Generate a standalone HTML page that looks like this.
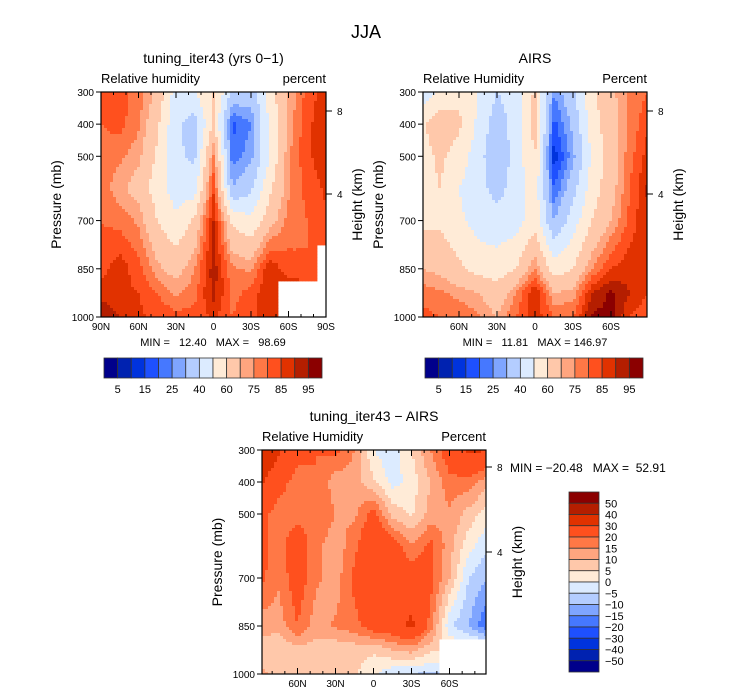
<!DOCTYPE html>
<html><head><meta charset="utf-8"><style>
body{margin:0;background:#fff;width:733px;height:699px;overflow:hidden}
svg{display:block;font-family:"Liberation Sans",sans-serif}
text{fill:#000;white-space:pre}
</style></head><body>
<svg id="s" width="733" height="699" viewBox="0 0 733 699">
<text x="366" y="38" font-size="18" text-anchor="middle">JJA</text>
<g id="g"></g>
</svg>
<script>
// ---- data ----
const lats = [90,75,60,45,30,15,0,-15,-30,-45,-60,-75,-90];
const pLevels = [300,400,500,600,700,850,925,1000];
const rhLevels = [5,10,15,20,25,30,40,50,60,70,75,80,85,90,95];
const diffLevels = [-50,-40,-30,-20,-15,-10,-5,0,5,10,15,20,30,40,50];
const rhTickLabels = ['5','15','25','40','60','75','85','95'];
const diffTickLabels = ['50','40','30','20','15','10','5','0','\u22125','\u221210','\u221215','\u221220','\u221230','\u221240','\u221250'];
const modelRH = [
 [80,82,78,68,45,50,62,38,35,55,70,82,88],
 [80,82,76,62,42,35,62,18,25,52,72,84,88],
 [78,76,72,58,42,38,76,22,28,50,74,84,88],
 [78,72,66,55,45,45,84,30,38,58,74,82,86],
 [80,78,74,60,52,62,90,58,52,66,77,80,84],
 [83,88,82,72,66,75,93,76,74,89,82,80,null],
 [88,86,85,80,74,78,92,78,82,90,null,null,null],
 [95,90,86,84,82,82,86,80,85,85,null,null,null]];
const airsRH = [
 [42,52,58,50,40,45,62,25,38,58,68,76,80],
 [58,66,62,48,34,45,65,18,32,55,66,76,85],
 [56,62,56,44,32,44,60,12,28,52,66,78,88],
 [56,60,50,44,36,45,56,20,36,55,66,80,92],
 [58,58,52,46,44,45,56,30,45,60,70,82,90],
 [70,68,62,56,55,60,75,55,60,75,85,88,90],
 [78,76,73,70,64,75,90,70,72,90,96,90,85],
 [82,80,80,76,70,80,88,80,80,96,97,85,80]];
const diffRH = [
 [42,32,22,20,22,15,0,-4,5,15,25,32,30],
 [32,22,18,20,12,12,6,-2,2,10,18,18,12],
 [22,18,18,20,15,14,22,8,4,12,14,8,2],
 [22,18,24,16,12,18,30,24,16,22,12,2,-4],
 [22,16,24,16,12,22,28,26,24,22,10,-5,-10],
 [12,12,20,12,16,18,24,26,32,18,-4,-10,-20],
 [7,6,8,8,6,7,6,10,12,6,null,null,null],
 [12,8,8,8,7,6,1,-4,-5,-6,null,null,null]];
const colors = ['#00008b','#0022b0','#0033dd','#1e50ff','#4678ff','#7fa5ff','#b4cdff','#dcebff','#ffebd7','#ffc8aa','#ffa57f','#ff7846','#ff501e','#e13200','#b41e00','#8b0000'];
const NS='http://www.w3.org/2000/svg';
const G=document.getElementById('g');
function el(t,a,p){const e=document.createElementNS(NS,t);for(const k in a)e.setAttribute(k,a[k]);(p||G).appendChild(e);return e;}
function txt(x,y,s,size,anchor,p,rot){const e=el('text',{x:x,y:y,'font-size':size,'text-anchor':anchor||'start'},p);if(rot)e.setAttribute('transform','rotate(-90 '+x+' '+y+')');e.textContent=s;return e;}
function colorFor(v,levels){let i=0;while(i<levels.length&&v>=levels[i])i++;return colors[i];}
function interp(data,fi,fj){
  const i0=Math.floor(fi),j0=Math.floor(fj),i1=Math.min(i0+1,data.length-1),j1=Math.min(j0+1,data[0].length-1);
  const ni=Math.round(fi),nj=Math.round(fj);
  if(data[ni][nj]===null)return null;
  const g=(i,j)=>{let v=data[i][j];let k=j;while(v===null&&k>0){k--;v=data[i][k];}return v;};
  const di=fi-i0,dj=fj-j0;
  return g(i0,j0)*(1-di)*(1-dj)+g(i0,j1)*(1-di)*dj+g(i1,j0)*di*(1-dj)+g(i1,j1)*di*dj;
}
function panel(o){
  const grp=el('g',{});
  
  
  const x0=o.x,x1=o.x+o.w,y0=o.y,y1=o.y+o.h;
  const xS=lat=>o.xc+(-lat)*o.degPx;
  const yS=p=>y0+(p-300)/700*o.h;
  const cell=3;
  for(let py=y0;py<y1;py+=cell){
    const pc=300+(py+cell/2-y0)/o.h*700;
    let fi=0;for(let k=0;k<pLevels.length-1;k++){if(pc>=pLevels[k]&&pc<=pLevels[k+1]){fi=k+(pc-pLevels[k])/(pLevels[k+1]-pLevels[k]);}}
    for(let px=x0;px<x1;px+=cell){
      const lat=-((px+cell/2)-o.xc)/o.degPx;
      const fj=Math.max(0,Math.min(lats.length-1,(90-lat)/15));
      const v=interp(o.data,fi,fj);
      if(v===null)continue;
      const r=el('rect',{x:px,y:py,width:Math.min(cell,x1-px)+0.4,height:Math.min(cell,y1-py)+0.4,fill:colorFor(v,o.levels)},grp);
      
      
    }
  }
  const fr=el('rect',{x:x0,y:y0,width:o.w,height:o.h,fill:'none',stroke:'#000','stroke-width':1.2},grp);
  
  [300,400,500,700,850,1000].forEach(p=>{
    el('line',{x1:x0-5,x2:x0,y1:yS(p),y2:yS(p),stroke:'#000'},grp);
    const t=txt(x0-7,yS(p)+4,String(p),10,'end',grp);
    
  });
  for(let lat=90;lat>=-90;lat-=10){
    const x=xS(lat);if(x<x0-0.5||x>x1+0.5)continue;
    const major=lat%30===0;
    el('line',{x1:x,x2:x,y1:y1,y2:y1-(major?6:3),stroke:'#000'},grp);
    el('line',{x1:x,x2:x,y1:y0,y2:y0+(major?6:3),stroke:'#000'},grp);
    if(major&&(o.edgeLabels||Math.abs(lat)<90)){
      const s=lat===0?'0':(Math.abs(lat)+(lat>0?'N':'S'));
      const t=txt(x,y1+13,s,10,'middle',grp);
      
    }
  }
  o.hTicks.forEach(h=>{
    el('line',{x1:x1,x2:x1+6,y1:h[1],y2:h[1],stroke:'#000'},grp);
    const t=txt(x1+11,h[1]+4,String(h[0]),10,'start',grp);
    
  });
  let t=txt(o.x+o.w/2,o.y-29,o.title,14,'middle',grp);
  t=txt(x0,y0-9,o.left,13,'start',grp);
  t=txt(x1,y0-9,o.right,13,'end',grp);
  t=txt(x0-40,y0+o.h/2,'Pressure (mb)',14,'middle',grp,true);
  t=txt(x1+36,y0+o.h/2,'Height (km)',14,'middle',grp,true);
}
function hbar(x,y,w,h,labels){
  const grp=el('g',{});
  
  const bw=w/colors.length;
  colors.forEach((c,i)=>{const r=el('rect',{x:x+i*bw,y:y,width:bw,height:h,fill:c,stroke:'#333','stroke-width':0.8},grp);
    });
  labels.forEach((s,k)=>{const t=txt(x+(2*k+1)*bw,y+h+15,s,11,'middle',grp);});
}
function vbar(x,y,w,h,labels){
  const grp=el('g',{});
  
  const bh=h/colors.length;
  colors.slice().reverse().forEach((c,i)=>{const r=el('rect',{x:x,y:y+i*bh,width:w,height:bh,fill:c,stroke:'#333','stroke-width':0.8},grp);
    });
  labels.forEach((s,k)=>{const t=txt(x+w+6,y+(k+1)*bh+4,s,11,'start',grp);});
}
panel({name:'model-panel',x:101,y:92,w:225,h:225,xc:213.5,degPx:225/180,data:modelRH,levels:rhLevels,title:'tuning_iter43 (yrs 0\u22121)',left:'Relative humidity',right:'percent',hTicks:[[8,111],[4,194]],edgeLabels:true});
panel({name:'airs-panel',x:423,y:92,w:224,h:225,xc:535,degPx:76/60,data:airsRH,levels:rhLevels,title:'AIRS',left:'Relative Humidity',right:'Percent',hTicks:[[8,111],[4,194]],edgeLabels:false});
panel({name:'diff-panel',x:262,y:450,w:224,h:224,xc:373.5,degPx:76/60,data:diffRH,levels:diffLevels,title:'tuning_iter43 \u2212 AIRS',left:'Relative Humidity',right:'Percent',hTicks:[[8,467],[4,552]],edgeLabels:false});
let t;
t=txt(213,346,'MIN =   12.40   MAX =   98.69',11,'middle');
t=txt(535,346,'MIN =   11.81   MAX = 146.97',11,'middle');
t=txt(510,472,'MIN = \u221220.48   MAX =  52.91',12,'start');
hbar(104,358,218,20,rhTickLabels);
hbar(425,358,218,20,rhTickLabels);
vbar(569,492,30,180,diffTickLabels);
</script>
</body></html>
